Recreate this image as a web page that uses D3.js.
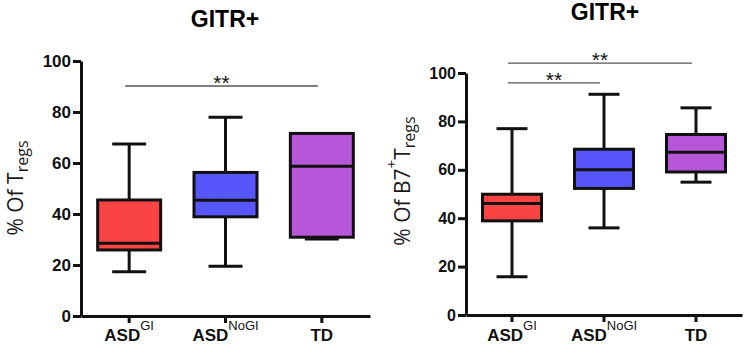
<!DOCTYPE html>
<html>
<head>
<meta charset="utf-8">
<script src="https://cdn.jsdelivr.net/npm/d3@7"></script>
<style>
  body { margin: 0; background: #fff; }
  svg { display: block; }
</style>
</head>
<body>
<svg id="chart" width="744" height="346"></svg>
<script>
// groups and tick values
const groups = ["ASD_GI", "ASD_NoGI", "TD"];
const groupMain = ["ASD", "ASD", "TD"];
const groupSup = ["GI", "NoGI", ""];
const yTicks = [0, 20, 40, 60, 80, 100];
const colors = ["#fa4343", "#5656fa", "#b557d8"];

// left panel: % of Tregs (min, q1, median, q3, max)
const leftMin = [17.4, 19.5, 30.2];
const leftQ1 = [25.9, 38.9, 30.9];
const leftMed = [28.5, 45.4, 58.7];
const leftQ3 = [45.5, 56.3, 71.6];
const leftMax = [67.5, 77.9, 71.6];
const leftSig = [{from: 0, to: 2, y: 90.2, label: "**"}];

// right panel: % of B7+ Tregs
const rightMin = [15.8, 36.0, 54.9];
const rightQ1 = [38.9, 52.3, 59.1];
const rightMed = [46.1, 60.0, 67.3];
const rightQ3 = [49.9, 68.5, 74.6];
const rightMax = [77.0, 91.2, 85.6];
const rightSig = [
  {from: 0, to: 2, y: 104.1, label: "**"},
  {from: 0, to: 1, y: 95.9, label: "**"}
];

const svg = d3.select("#chart");

function makePanel(opt) {
  const g = svg.append("g");

  const x = d3.scaleBand().domain(groups).range([opt.left, opt.right]);
  const y = d3.scaleLinear().domain([0, 100]).range([opt.bottom, opt.top]);
  const cx = i => x(groups[i]) + x.bandwidth() / 2;

  // title
  g.append("text")
    .attr("x", opt.titleX).attr("y", opt.titleY)
    .attr("text-anchor", "middle")
    .style("font-family", "'Liberation Sans', Arial, sans-serif")
    .style("font-weight", "bold")
    .style("font-size", "23px")
    .text("GITR+");

  // y axis
  const yAxis = g.append("g")
    .attr("transform", "translate(" + opt.left + ",0)")
    .call(d3.axisLeft(y).tickValues(yTicks).tickSize(8).tickSizeOuter(0).tickPadding(2));
  yAxis.select(".domain").attr("stroke-width", 3).attr("stroke", "#111");
  yAxis.selectAll(".tick line").attr("stroke-width", 3).attr("stroke", "#111");
  yAxis.selectAll(".tick text")
    .attr("fill", "#111")
    .style("font-family", "'Liberation Sans', Arial, sans-serif")
    .style("font-weight", "bold")
    .style("font-size", opt.tickFont + "px");

  // x axis
  const xAxis = g.append("g")
    .attr("transform", "translate(0," + opt.bottom + ")")
    .call(d3.axisBottom(x).tickSize(7).tickSizeOuter(0).tickFormat(""));
  xAxis.select(".domain").attr("stroke-width", 3).attr("stroke", "#111");
  xAxis.selectAll(".tick line").attr("stroke-width", 3).attr("stroke", "#111");

  // x labels with superscripts
  groups.forEach((d, i) => {
    const t = g.append("text")
      .attr("x", cx(i)).attr("y", 341)
      .attr("text-anchor", "middle")
      .attr("fill", "#111")
      .style("font-family", "'Liberation Sans', Arial, sans-serif");
    t.append("tspan").style("font-weight", "bold").style("font-size", "17px").text(groupMain[i]);
    if (groupSup[i]) {
      t.append("tspan").attr("dy", -11).style("font-size", "13px").text(groupSup[i]);
    }
  });

  // y label
  const yl = g.append("text")
    .attr("transform", "translate(" + opt.labelX + "," + opt.labelY + ") rotate(-90)")
    .attr("text-anchor", "middle")
    .attr("fill", "#1a1a1a")
    .style("font-family", "'Open Sans', sans-serif")
    .style("font-weight", 400)
    .style("font-size", "21px");
  opt.labelParts.forEach(p => {
    const s = yl.append("tspan").text(p.t);
    if (p.dy) s.attr("dy", p.dy);
    if (p.size) s.style("font-size", p.size + "px");
  });

  // boxes
  const idx = d3.range(groups.length);
  const bw = opt.boxWidth, cw = opt.capWidth;

  g.selectAll(".whisker").data(idx).join("line")
    .attr("x1", i => cx(i)).attr("x2", i => cx(i))
    .attr("y1", i => y(opt.min[i])).attr("y2", i => y(opt.max[i]))
    .attr("stroke", "#111").attr("stroke-width", 3);

  g.selectAll(".cap").data(idx.flatMap(i => [[i, opt.min[i]], [i, opt.max[i]]])).join("line")
    .attr("x1", d => cx(d[0]) - cw / 2).attr("x2", d => cx(d[0]) + cw / 2)
    .attr("y1", d => y(d[1])).attr("y2", d => y(d[1]))
    .attr("stroke", "#111").attr("stroke-width", 3);

  g.selectAll(".box").data(idx).join("rect")
    .attr("x", i => cx(i) - bw / 2).attr("width", bw)
    .attr("y", i => y(opt.q3[i])).attr("height", i => y(opt.q1[i]) - y(opt.q3[i]))
    .attr("fill", i => colors[i])
    .attr("stroke", "#111").attr("stroke-width", 3);

  g.selectAll(".median").data(idx).join("line")
    .attr("x1", i => cx(i) - bw / 2).attr("x2", i => cx(i) + bw / 2)
    .attr("y1", i => y(opt.med[i])).attr("y2", i => y(opt.med[i]))
    .attr("stroke", "#111").attr("stroke-width", 3);

  // significance bars
  opt.sig.forEach(s => {
    const x1 = cx(s.from) - 4, x2 = cx(s.to) - 4;
    g.append("line")
      .attr("x1", x1).attr("x2", x2)
      .attr("y1", y(s.y)).attr("y2", y(s.y))
      .attr("stroke", "#555").attr("stroke-width", 1.3);
    g.append("text")
      .attr("x", (x1 + x2) / 2).attr("y", y(s.y) + 4)
      .attr("text-anchor", "middle")
      .attr("fill", "#111")
      .style("font-family", "'Liberation Sans', Arial, sans-serif")
      .style("font-size", "21px")
      .text(s.label);
  });
}

makePanel({
  left: 81, right: 370, top: 61, bottom: 316,
  min: leftMin, q1: leftQ1, med: leftMed, q3: leftQ3, max: leftMax,
  sig: leftSig, boxWidth: 63, capWidth: 34, tickFont: 17,
  titleX: 225, titleY: 27,
  labelX: 23, labelY: 188,
  labelParts: [{t: "% Of T"}, {t: "regs", dy: 5, size: 16}]
});

makePanel({
  left: 466, right: 742, top: 73, bottom: 315,
  min: rightMin, q1: rightQ1, med: rightMed, q3: rightQ3, max: rightMax,
  sig: rightSig, boxWidth: 59, capWidth: 31, tickFont: 16,
  titleX: 605, titleY: 20,
  labelX: 410, labelY: 181,
  labelParts: [{t: "% Of B7"}, {t: "+", dy: -13, size: 15}, {t: "T", dy: 13}, {t: "regs", dy: 5, size: 16}]
});
</script>
</body>
</html>
